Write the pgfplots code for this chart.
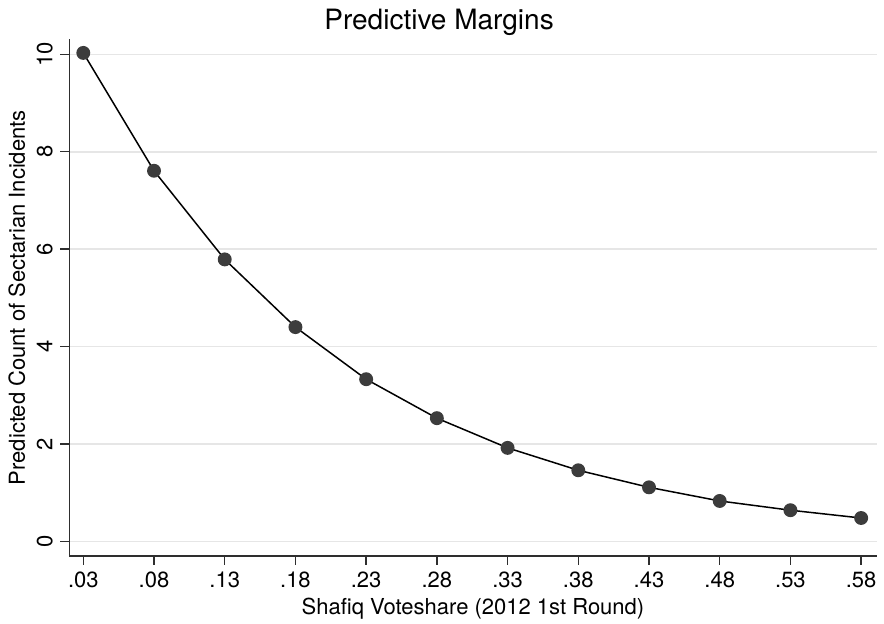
\documentclass[border=0pt]{standalone}
\usepackage{pgfplots}
\pgfplotsset{compat=1.18}
\usepackage{fontspec}
\setmainfont{TeX Gyre Heros}
\definecolor{stmark}{HTML}{3C3C3C}
\definecolor{stgrid}{HTML}{E6E6E6}
\definecolor{staxis}{HTML}{2E2E2E}

\begin{document}
\begin{tikzpicture}
\begin{axis}[
  scale only axis,
  width=403.7pt, height=258.35pt,
  xmin=0.0201, xmax=0.591, ymin=-0.30, ymax=10.31,
  axis lines*=left,
  axis line style={staxis, line width=0.7pt},
  tick align=outside,
  tick style={staxis, line width=0.7pt},
  major tick length=4.4pt,
  xtick={0.03,0.08,0.13,0.18,0.23,0.28,0.33,0.38,0.43,0.48,0.53,0.58},
  xticklabels={.03,.08,.13,.18,.23,.28,.33,.38,.43,.48,.53,.58},
  ytick={0,2,4,6,8,10},
  yticklabels={0,2,4,6,8,10},
  % rotated labels: yshift moves them away from the axis
  yticklabel style={rotate=90, anchor=base, yshift=4pt},
  ymajorgrids,
  major grid style={stgrid, line width=0.8pt},
  tick label style={font=\fontsize{11}{13}\selectfont},
  label style={font=\fontsize{11}{13}\selectfont},
  title={Predictive Margins},
  title style={at={(axis description cs:0.458,1.0213)}, anchor=base,
               yshift=-6.5pt, font=\fontsize{14}{16}\selectfont},
  xlabel={Shafiq Voteshare (2012 1st Round)},
  xlabel style={at={(axis description cs:0.5,-0.1142)}, anchor=base},
  ylabel={Predicted Count of Sectarian Incidents},
  ylabel style={at={(axis description cs:-0.0549,0.5)}, anchor=base},
  clip=false,
]
\addplot[black, line width=0.75pt, mark=*, mark size=3.1pt,
         mark options={draw=stmark, fill=stmark}]
  coordinates {
  (0.03,10.03) (0.08,7.61) (0.13,5.79) (0.18,4.40) (0.23,3.33) (0.28,2.53)
  (0.33,1.92) (0.38,1.46) (0.43,1.11) (0.48,0.83) (0.53,0.64) (0.58,0.48)
  };
\end{axis}
\pgfresetboundingbox
\path[use as bounding box]
  ([shift={(-34.65pt,-34pt)}]current axis.south west) rectangle
  ([shift={(3.65pt,19.65pt)}]current axis.north east);
\end{tikzpicture}
\end{document}
